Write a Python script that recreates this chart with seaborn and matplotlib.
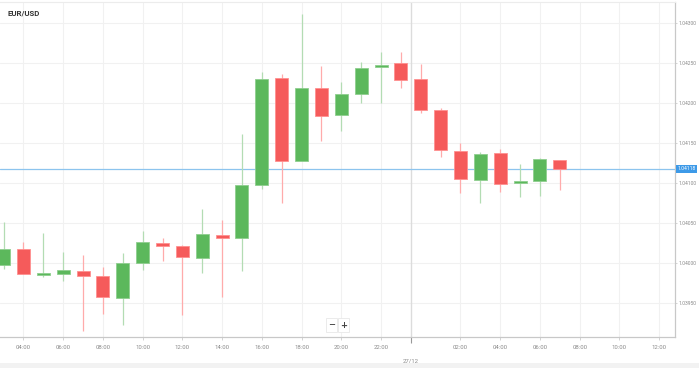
import matplotlib
matplotlib.use("Agg")
import matplotlib.pyplot as plt
import matplotlib.transforms as mtransforms
from matplotlib.patches import Rectangle
import numpy as np
import pandas as pd
import seaborn as sns

# ---------------- data ----------------
title = "EUR/USD"
# hours since 26/12 00:00 (24 = 27/12 00:00)
hours = [3, 4, 5, 6, 7, 8, 9, 10, 11, 12, 13, 14, 15, 16, 17, 18, 19, 20, 21, 22, 23,
         24, 25, 26, 27, 28, 29, 30, 31]
opens = [1.039975, 1.040175, 1.039850, 1.039859, 1.039900, 1.039838, 1.039566, 1.039996,
         1.040250, 1.040213, 1.040063, 1.040350, 1.040316, 1.040971, 1.042309, 1.041275,
         1.042191, 1.041854, 1.042113, 1.042446, 1.042504, 1.042300, 1.041909, 1.041404,
         1.041041, 1.041375, 1.040996, 1.041021, 1.041291]
highs = [1.040513, 1.040263, 1.040375, 1.040138, 1.040100, 1.039950, 1.040125, 1.040400,
         1.040313, 1.040225, 1.040675, 1.040538, 1.041613, 1.042388, 1.042363, 1.043113,
         1.042463, 1.042259, 1.042513, 1.042634, 1.042638, 1.042488, 1.041934, 1.041506,
         1.041388, 1.041425, 1.041238, 1.041316, 1.041291]
lows = [1.039925, 1.039863, 1.039825, 1.039775, 1.039150, 1.039363, 1.039225, 1.039913,
        1.040025, 1.039350, 1.039875, 1.039575, 1.039900, 1.040925, 1.040750, 1.041275,
        1.041525, 1.041650, 1.041996, 1.041996, 1.042188, 1.041879, 1.041321, 1.040875,
        1.040754, 1.040891, 1.040825, 1.040838, 1.040909]
closes = [1.040175, 1.039863, 1.039869, 1.039913, 1.039838, 1.039575, 1.039996, 1.040263,
          1.040209, 1.040071, 1.040363, 1.040316, 1.040969, 1.042296, 1.041279, 1.042191,
          1.041841, 1.042109, 1.042438, 1.042475, 1.042284, 1.041909, 1.041409, 1.041046,
          1.041363, 1.040991, 1.041029, 1.041304, 1.041180]
last_price = 1.04118
last_label = "1.04118"

x_ticks = [4, 6, 8, 10, 12, 14, 16, 18, 20, 22, 26, 28, 30, 32, 34, 36]
x_labels = ["04:00", "06:00", "08:00", "10:00", "12:00", "14:00", "16:00", "18:00",
            "20:00", "22:00", "02:00", "04:00", "06:00", "08:00", "10:00", "12:00"]
day_tick = 23.5
day_label = "27/12"
y_ticks = [1.03950, 1.04000, 1.04050, 1.04100, 1.04150, 1.04200, 1.04250, 1.04300]
y_labels = ["1.03950", "1.04000", "1.04050", "1.04100", "1.04150", "1.04200",
            "1.04250", "1.04300"]

df = pd.DataFrame({"hour": hours, "open": opens, "high": highs, "low": lows, "close": closes})

# ---------------- style ----------------
sns.set_theme(style="white")
plt.rcParams["font.family"] = ["Roboto", "DejaVu Sans"]

W, H = 699, 368
fig = plt.figure(figsize=(W / 100, H / 100), dpi=100)
ax = fig.add_axes([0 / W, (H - 337) / H, 675 / W, 335 / H])

GREEN = "#5cb85c"
RED = "#f55b5b"
GREEN_W = "#b3dcb3"
RED_W = "#ffabab"

up = df["close"] >= df["open"]
body_w = 0.655

# wicks
ax.vlines(df.loc[up, "hour"], df.loc[up, "low"], df.loc[up, "high"],
          color=GREEN_W, lw=0.9, zorder=3)
ax.vlines(df.loc[~up, "hour"], df.loc[~up, "low"], df.loc[~up, "high"],
          color=RED_W, lw=0.9, zorder=3)

# bodies
bottom = np.minimum(df["open"], df["close"])
height = np.abs(df["close"] - df["open"])
height = np.maximum(height, 0.000012)
colors = np.where(up, GREEN, RED)
edges = np.where(up, "#8fce8f", "#ff9090")
ax.bar(df["hour"], height, bottom=bottom, width=body_w, color=colors,
       edgecolor=edges, linewidth=0.6, zorder=4)

# limits
ax.set_xlim(2.817, 36.80)
ax.set_ylim(1.039075, 1.0432625)

# grid
ax.set_xticks(x_ticks)
ax.set_xticklabels(x_labels)
ax.set_yticks(y_ticks)
ax.set_yticklabels(y_labels)
ax.grid(True, which="major", color="#f1f1f1", lw=0.8, zorder=0)
ax.set_axisbelow(True)

# day separator
ax.axvline(day_tick, color="#dcdcdc", lw=1.0, zorder=1)
ax.set_xticks([day_tick], minor=True)
ax.set_xticklabels([day_label], minor=True)

# last price line
ax.axhline(last_price, color="#8cc4ee", lw=0.9, zorder=2)

# axes appearance
ax.yaxis.tick_right()
ax.spines["left"].set_visible(False)
ax.spines["right"].set_color("#c8c8c8")
ax.spines["right"].set_linewidth(0.9)
ax.spines["bottom"].set_color("#c8c8c8")
ax.spines["bottom"].set_linewidth(0.9)
ax.spines["top"].set_color("#ececec")
ax.spines["top"].set_linewidth(0.8)

ax.tick_params(axis="x", which="major", length=2.5, width=0.6, color="#cccccc",
               labelsize=4.3, labelcolor="#8a8a8a", pad=3, bottom=True)
ax.tick_params(axis="x", which="minor", length=4.5, width=0.8, color="#999999",
               labelsize=4.3, labelcolor="#8a8a8a", pad=11, bottom=True)
ax.tick_params(axis="y", length=1.5, width=0.6, color="#cccccc", labelsize=3.6,
               labelcolor="#8a8a8a", pad=1.2, right=True, left=False)

# last price tag on right axis
trans = mtransforms.blended_transform_factory(ax.transAxes, ax.transData)
ax.text(1.004, last_price, last_label, transform=trans, ha="left", va="center",
        fontsize=3.6, color="white", zorder=10, clip_on=False,
        bbox=dict(boxstyle="square,pad=0.3", fc="#3d9ae8", ec="#3d9ae8", lw=0))

# title
fig.text(8 / W, 1 - 13.5 / H, title, ha="left", va="center", fontsize=5.6,
         fontweight="bold", color="#333333")

# zoom buttons
for xc, sym in [(331.5, "\u2212"), (343.5, "+")]:
    fig.text(xc / W, 1 - 325 / H, sym, ha="center", va="center", fontsize=6,
             fontweight="bold", color="#444444", family="DejaVu Sans",
             bbox=dict(boxstyle="square,pad=0.25", fc="white", ec="#e8e8e8", lw=0.6))

# bottom grey band
fig.patches.append(Rectangle((0, 0), 1, 5 / H, transform=fig.transFigure,
                             facecolor="#f2f2f2", edgecolor="none", zorder=0))

fig.savefig("out.png", dpi=100)
